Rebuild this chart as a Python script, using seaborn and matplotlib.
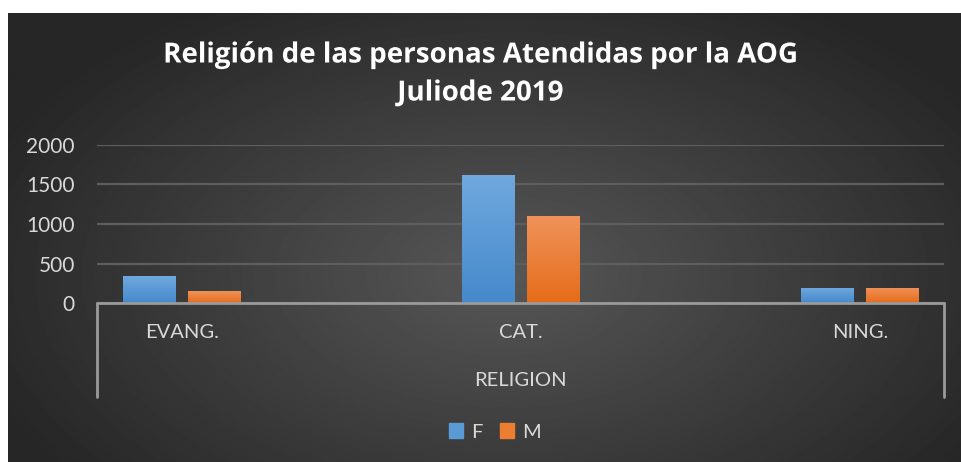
import numpy as np
import pandas as pd
import seaborn as sns
import matplotlib.pyplot as plt
import matplotlib.patheffects as pe
from matplotlib.lines import Line2D
from matplotlib.patches import Rectangle
from matplotlib.colors import LinearSegmentedColormap

# Religion of people attended, July 2019
categories = ["EVANG.", "CAT.", "NING."]
f_values = [340, 1620, 190]
m_values = [150, 1100, 190]

df = pd.DataFrame({
    "Religion": categories * 2,
    "Sexo": ["F"] * 3 + ["M"] * 3,
    "Total": f_values + m_values,
})

sns.set_theme(style="white")
plt.rcParams["font.family"] = ["Lato", "DejaVu Sans"]

W, H = 961, 462
fig = plt.figure(figsize=(W / 100, H / 100), dpi=100)
fig.patch.set_facecolor("white")

# dark radial gradient background (chart area)
bg = fig.add_axes([0, 0, 1, 1], zorder=-1)
bg.set_xlim(0, W)
bg.set_ylim(H, 0)
bg.axis("off")
yy, xx = np.mgrid[0:H, 0:W]
r = np.sqrt(((xx - 500) / 560.0) ** 2 + ((yy - 270) / 330.0) ** 2)
shade = np.clip(0.34 - 0.19 * r, 0.15, 0.34)
bg.imshow(shade, cmap="gray", vmin=0, vmax=1, extent=(8, W, H, 13),
          interpolation="bilinear", aspect="auto")

ax = fig.add_axes([97 / W, 1 - 303 / H, (944 - 97) / W, (303 - 145) / H])
ax.set_facecolor("none")

palette = {"F": "#5b9bd5", "M": "#ed7d31"}
sns.barplot(data=df, x="Religion", y="Total", hue="Sexo", order=categories,
            hue_order=["F", "M"], palette=palette, width=0.384, gap=0.19,
            saturation=1, linewidth=0, ax=ax, zorder=3, legend=False)

# vertical gradient on bars
grads = {"F": ("#6fa8de", "#4589cc"), "M": ("#f0925a", "#e56c1a")}
for i, bar in enumerate(ax.patches):
    key = "F" if i < 3 else "M"
    cmap = LinearSegmentedColormap.from_list(key, [grads[key][1], grads[key][0]])
    x0, y0 = bar.get_x(), bar.get_y()
    w, h = bar.get_width(), bar.get_height()
    if h <= 0:
        continue
    img = ax.imshow(np.linspace(0, 1, 64).reshape(-1, 1), cmap=cmap,
                    extent=(x0, x0 + w, y0, y0 + h), origin="lower",
                    aspect="auto", zorder=3.5)
    img.set_clip_path(bar)

ax.set_xlim(-0.251, 2.248)
ax.set_ylim(0, 2000)
ax.set_yticks([0, 500, 1000, 1500, 2000])
ax.grid(axis="y", color="#5e5e5e", linewidth=1.6, zorder=0)
ax.grid(axis="x", visible=False)
for s in ax.spines.values():
    s.set_visible(False)

ax.tick_params(axis="y", length=0, pad=16, labelsize=15, labelcolor="#d9d9d9")
ax.tick_params(axis="x", length=0, pad=15, labelsize=14.5, labelcolor="#d9d9d9")
ax.set_ylabel("")
ax.set_xlabel("RELIGION", color="#d9d9d9", fontsize=14.5, va="center")
ax.xaxis.set_label_coords(0.5, -0.49)

# multi-level category axis box
axis_col = "#9a9a9a"
ax.add_line(Line2D([0, 1], [0, 0], transform=ax.transAxes, color=axis_col,
                   linewidth=2, clip_on=False, zorder=4))
for xv in (0, 1):
    ax.add_line(Line2D([xv, xv], [0, -0.595], transform=ax.transAxes,
                       color=axis_col, linewidth=2, clip_on=False, zorder=4))

# legend
handles = [Rectangle((0, 0), 1, 1, color=palette[k]) for k in ["F", "M"]]
fig.legend(handles, ["F", "M"], loc="center", bbox_to_anchor=(0.515, 1 - 432 / H),
           ncol=2, frameon=False, fontsize=14.5, labelcolor="#d9d9d9",
           handlelength=0.7, handleheight=0.7, handletextpad=0.4,
           columnspacing=0.9)

shadow = [pe.withSimplePatchShadow(offset=(1.5, -1.5), shadow_rgbFace="black", alpha=0.5)]
title_kw = dict(ha="center", va="center", fontsize=20, fontweight="bold",
                color="white", family=["Open Sans", "DejaVu Sans"])
t1 = fig.text(0.5, 1 - 55 / H, "Religión de las personas Atendidas por la AOG", **title_kw)
t2 = fig.text(0.5, 1 - 93 / H, "Juliode 2019", **title_kw)
for t in (t1, t2):
    t.set_path_effects([pe.withStroke(linewidth=0, foreground="white")])
    t.set_path_effects([pe.SimpleLineShadow(offset=(1.5, -1.5), shadow_color="black", alpha=0.45), pe.Normal()])

fig.savefig("out.png", dpi=100)
